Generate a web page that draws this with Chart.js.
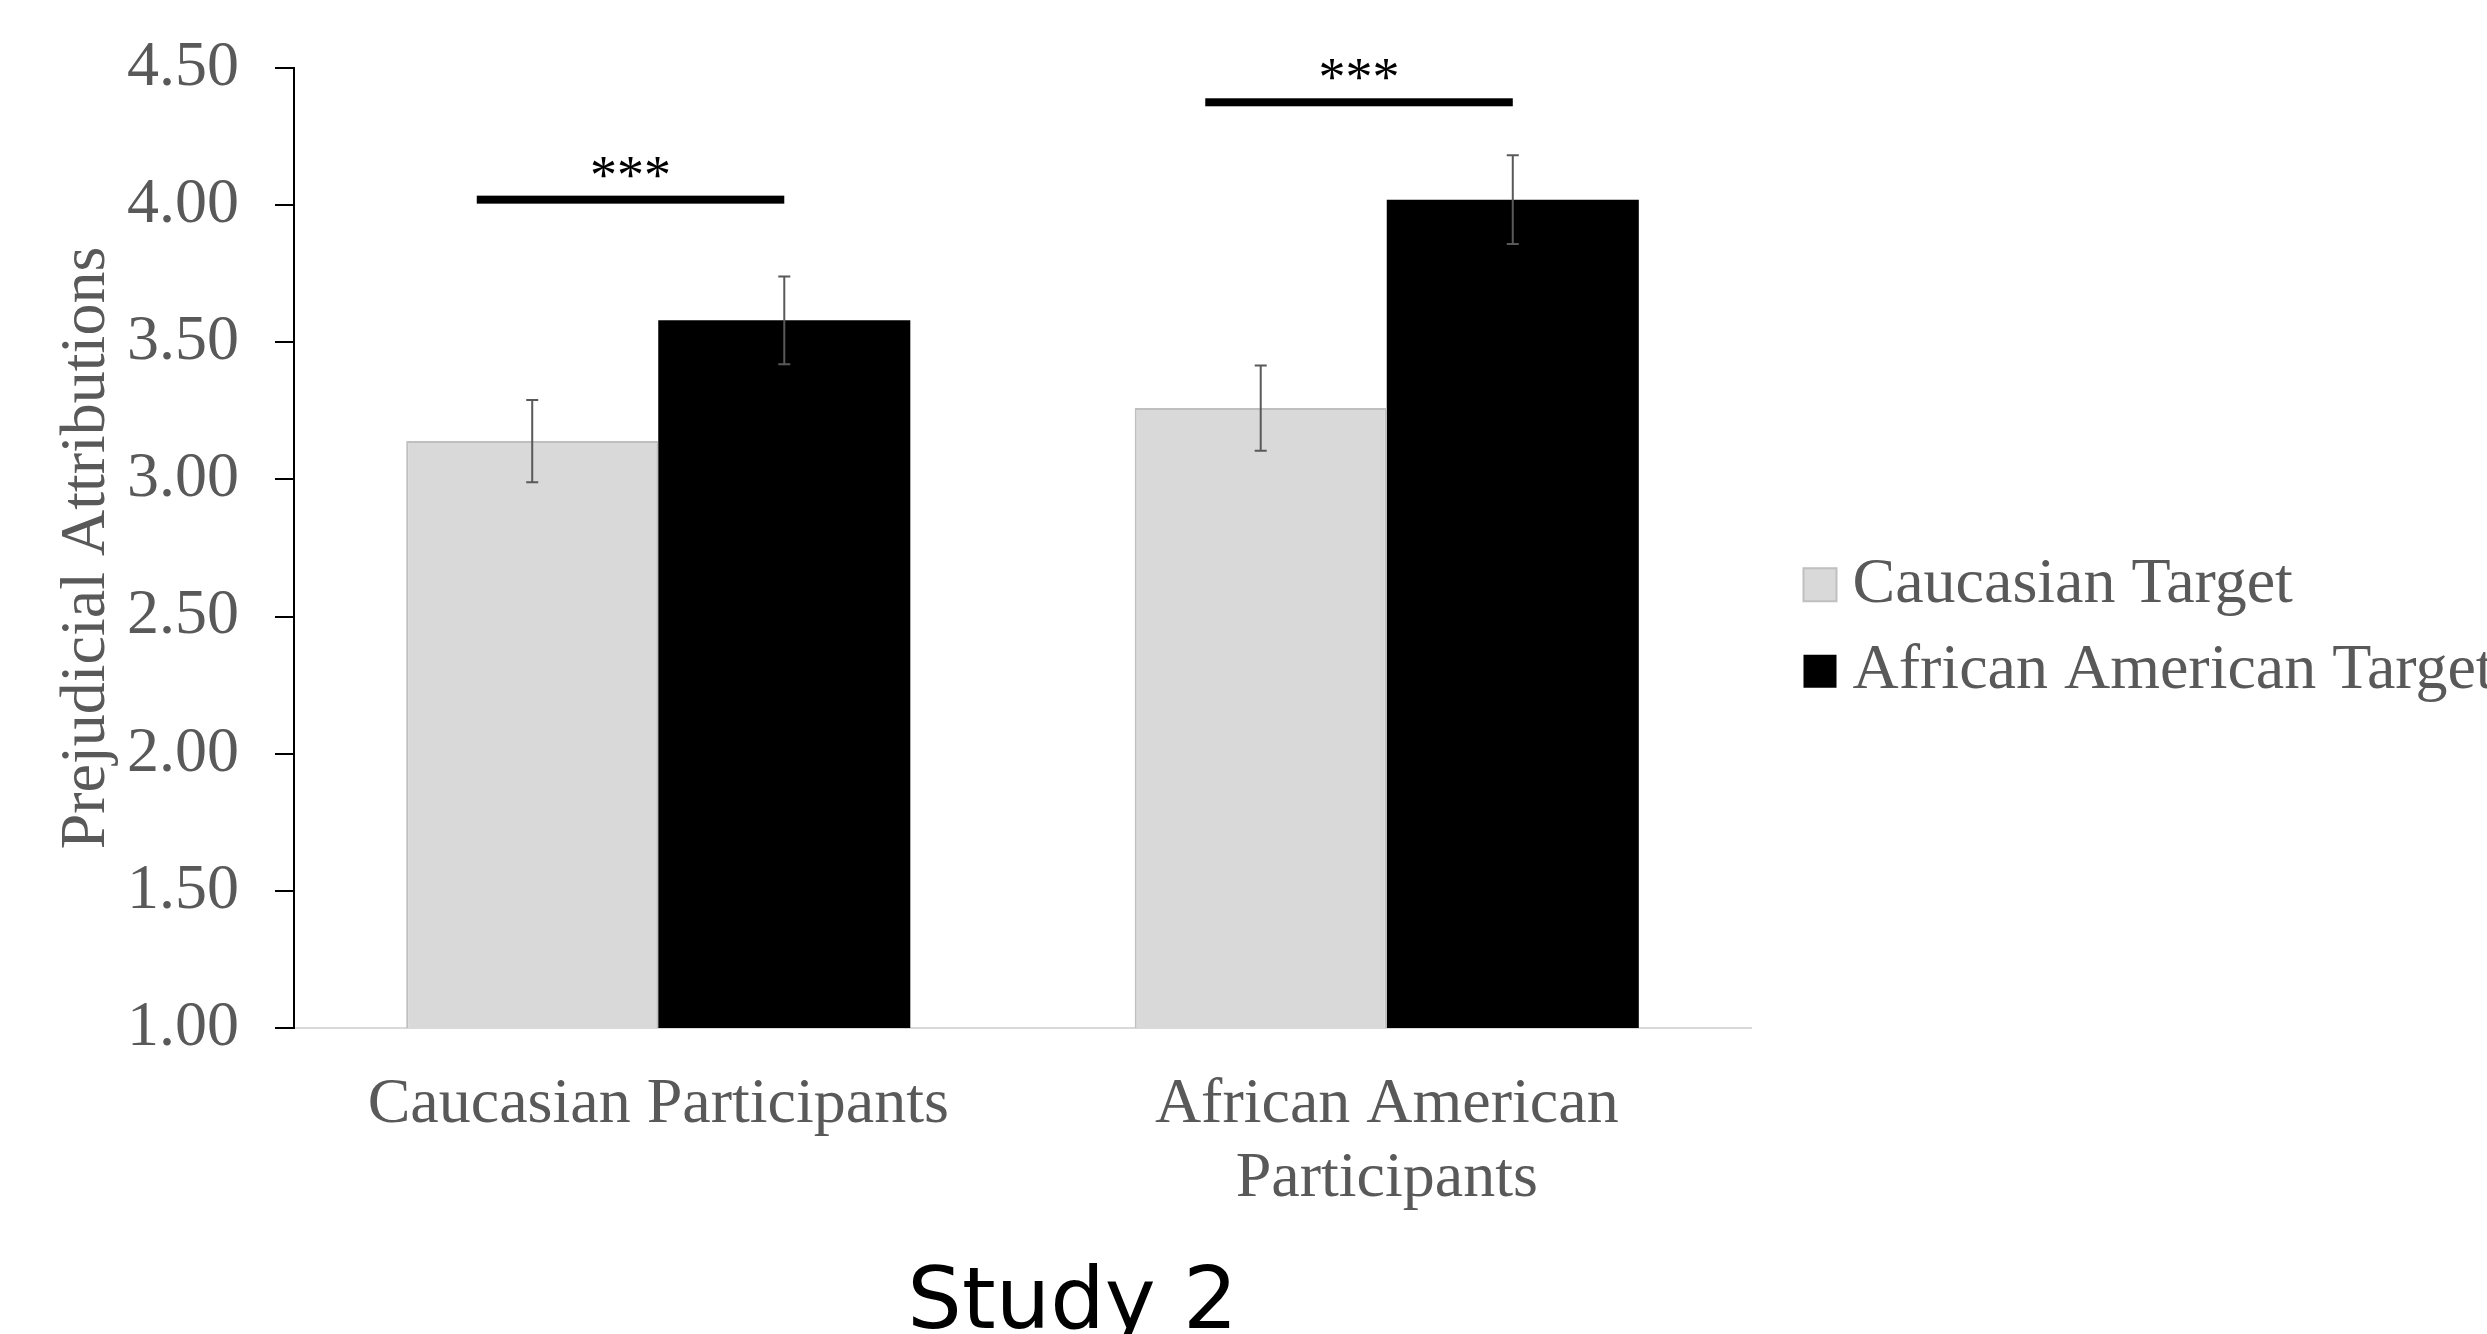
<!DOCTYPE html>
<html><head><meta charset="utf-8">
<script src="https://cdn.jsdelivr.net/npm/chart.js@4.4.1/dist/chart.umd.min.js"></script>
<style>html,body{margin:0;padding:0;background:#fff;} canvas{display:block;}</style>
</head><body>
<canvas id="c" width="2487" height="1334"></canvas>
<script>
const categories = ['Caucasian Participants', ['African American', 'Participants']];
const seriesNames = ['Caucasian Target', 'African American Target'];
const caucasianTarget = [3.14, 3.26];
const africanAmericanTarget = [3.58, 4.02];
const caucasianTargetErr = [0.15, 0.155];
const africanAmericanTargetErr = [0.16, 0.162];
const sigLevels = [4.02, 4.375];
const sigLabels = ['***', '***'];
const yMin = 1, yMax = 4.5, yStep = 0.5;
const yTitle = 'Prejudicial Attributions';
const chartTitle = 'Study 2';

const SERIF = 'Liberation Serif';
const GREY_TEXT = '#595959';

const errorBars = {
  id: 'errorBars',
  afterDatasetsDraw(chart) {
    const ctx = chart.ctx, y = chart.scales.y;
    const errs = [caucasianTargetErr, africanAmericanTargetErr];
    chart.data.datasets.forEach((ds, i) => {
      chart.getDatasetMeta(i).data.forEach((bar, j) => {
        const v = ds.data[j], e = errs[i][j];
        const top = y.getPixelForValue(v + e), bot = y.getPixelForValue(v - e);
        ctx.save();
        ctx.strokeStyle = '#595959';
        ctx.lineWidth = 2;
        ctx.beginPath();
        ctx.moveTo(bar.x, top); ctx.lineTo(bar.x, bot);
        ctx.moveTo(bar.x - 6, top); ctx.lineTo(bar.x + 6, top);
        ctx.moveTo(bar.x - 6, bot); ctx.lineTo(bar.x + 6, bot);
        ctx.stroke();
        ctx.restore();
      });
    });
  }
};

const significance = {
  id: 'significance',
  afterDatasetsDraw(chart) {
    const ctx = chart.ctx, y = chart.scales.y;
    const m0 = chart.getDatasetMeta(0).data, m1 = chart.getDatasetMeta(1).data;
    sigLevels.forEach((lvl, j) => {
      const g = m0[j], b = m1[j];
      const left = g.x - 0.22 * g.width, right = b.x;
      const py = y.getPixelForValue(lvl);
      ctx.save();
      ctx.fillStyle = '#000';
      ctx.fillRect(left, py - 4, right - left, 8);
      ctx.font = '54px "' + SERIF + '"';
      ctx.textAlign = 'center';
      ctx.textBaseline = 'alphabetic';
      ctx.fillText(sigLabels[j], (left + right) / 2, py - 7);
      ctx.restore();
    });
  }
};

const bottomTitle = {
  id: 'bottomTitle',
  afterDraw(chart) {
    const ctx = chart.ctx, a = chart.chartArea;
    ctx.save();
    ctx.font = '86px "DejaVu Sans"';
    ctx.fillStyle = '#000';
    ctx.textAlign = 'center';
    ctx.textBaseline = 'alphabetic';
    ctx.fillText(chartTitle, (a.left + a.right) / 2 + 50, chart.height - 6);
    ctx.restore();
  }
};

new Chart(document.getElementById('c'), {
  type: 'bar',
  data: {
    labels: categories,
    datasets: [
      { label: seriesNames[0], data: caucasianTarget, yAxisID: 'y',
        backgroundColor: '#d9d9d9', borderColor: '#bfbfbf', borderWidth: 2,
        categoryPercentage: 0.692, barPercentage: 1.0 },
      { label: seriesNames[1], data: africanAmericanTarget, yAxisID: 'y',
        backgroundColor: '#000000', borderColor: '#000000', borderWidth: 0,
        categoryPercentage: 0.692, barPercentage: 1.0 }
    ]
  },
  options: {
    responsive: false,
    animation: false,
    devicePixelRatio: 1,
    layout: { padding: { top: 18, bottom: 96, left: 0, right: 0 } },
    plugins: {
      title: { display: false },
      tooltip: { enabled: false },
      legend: {
        position: 'right',
        maxWidth: 690,
        labels: {
          usePointStyle: true, pointStyle: 'rect',
          boxWidth: 1, boxHeight: 33, padding: 22.5,
          color: GREY_TEXT,
          font: { family: SERIF, size: 64 }
        }
      }
    },
    scales: {
      x: {
        grid: { display: false, drawTicks: false },
        border: { display: true, color: '#d9d9d9', width: 2 },
        ticks: {
          color: GREY_TEXT, padding: 40, maxRotation: 0, autoSkip: false,
          font: { family: SERIF, size: 64, lineHeight: 1.156 }
        },
        afterFit: (s) => { s.height = 210; }
      },
      y: {
        min: yMin, max: yMax,
        grid: { drawOnChartArea: false, drawTicks: true, tickLength: 19, color: '#000', lineWidth: 2 },
        border: { display: true, color: '#000', width: 2 },
        ticks: {
          stepSize: yStep, color: GREY_TEXT, padding: 36,
          font: { family: SERIF, size: 64 },
          callback: (v) => Number(v).toFixed(2)
        },
        title: {
          display: true, text: yTitle, color: GREY_TEXT,
          font: { family: SERIF, size: 64 },
          padding: { top: 49, bottom: 0 }
        },
        afterFit: (s) => { s.width = 294; s.paddingTop = 68; s.paddingBottom = 0; }
      },
      gap: {
        type: 'linear', position: 'right', display: true,
        grid: { display: false, drawTicks: false },
        border: { display: false },
        ticks: { display: false },
        afterFit: (s) => { s.width = 46; }
      }
    }
  },
  plugins: [errorBars, significance, bottomTitle]
});
</script>
</body></html>
